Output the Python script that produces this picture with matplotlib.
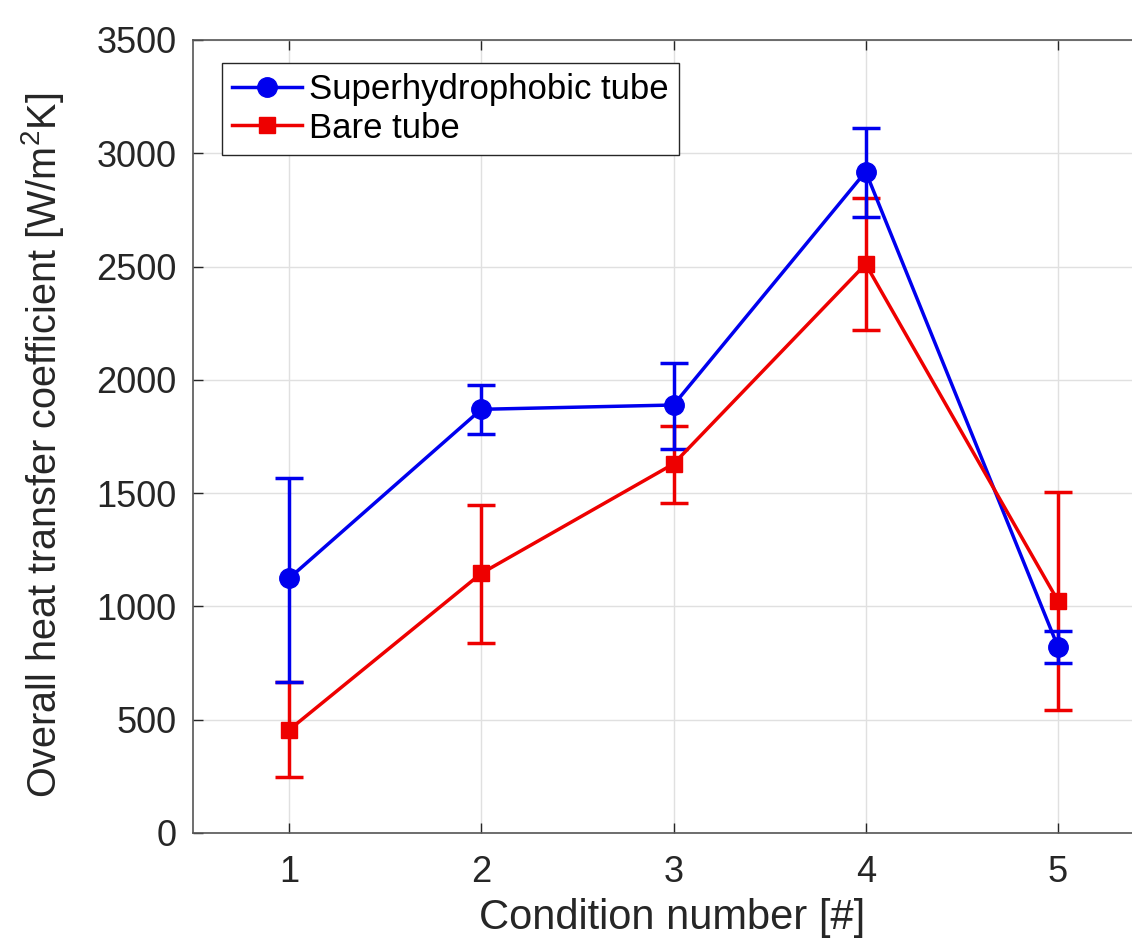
import matplotlib
matplotlib.use('Agg')
import matplotlib.pyplot as plt

# data
conditions = [1, 2, 3, 4, 5]

sh_mean = [1124, 1870, 1889, 2919, 822]
sh_upper = [1565, 1977, 2076, 3110, 893]
sh_lower = [668, 1761, 1695, 2717, 749]

bare_mean = [455, 1146, 1629, 2511, 1025]
bare_upper = [665, 1448, 1796, 2804, 1506]
bare_lower = [249, 837, 1458, 2220, 543]

y_ticks = [0, 500, 1000, 1500, 2000, 2500, 3000, 3500]

plt.rcParams['font.family'] = ['Liberation Sans', 'DejaVu Sans']
plt.rcParams['mathtext.fontset'] = 'custom'
plt.rcParams['mathtext.rm'] = 'Liberation Sans'
plt.rcParams['mathtext.it'] = 'Liberation Sans'


def main():
    fig = plt.figure(figsize=(11.32, 9.41), dpi=100)
    # axes runs past the right edge, like the cropped original
    ax = fig.add_axes([193 / 1132, 108 / 941, 961 / 1132, 793 / 941])

    sh_err = [[m - lo for m, lo in zip(sh_mean, sh_lower)],
              [hi - m for m, hi in zip(sh_mean, sh_upper)]]
    bare_err = [[m - lo for m, lo in zip(bare_mean, bare_lower)],
                [hi - m for m, hi in zip(bare_mean, bare_upper)]]

    blue = '#0000ee'
    red = '#ee0000'

    ax.errorbar(conditions, bare_mean, yerr=bare_err, fmt='none', ecolor=red,
                elinewidth=2.5, capsize=10, capthick=2.5, zorder=3)
    ax.errorbar(conditions, sh_mean, yerr=sh_err, fmt='none', ecolor=blue,
                elinewidth=2.5, capsize=10, capthick=2.5, zorder=3)
    ax.plot(conditions, sh_mean, '-o', color=blue, lw=2.5, ms=14,
            label='Superhydrophobic tube', zorder=4)
    ax.plot(conditions, bare_mean, '-s', color=red, lw=2.5, ms=11,
            label='Bare tube', zorder=4)

    ax.set_xlim(0.5, 5.5)
    ax.set_ylim(0, 3500)
    ax.set_xticks(conditions)
    ax.set_yticks(y_ticks)
    ax.grid(True, color='#e0e0e0', lw=1)
    ax.set_axisbelow(True)

    ax.tick_params(direction='in', length=7, width=1, colors='#262626',
                   labelsize=26, top=True, right=True)
    ax.tick_params(axis='x', pad=16)
    ax.tick_params(axis='y', pad=12)
    for s in ax.spines.values():
        s.set_color('#555555')
        s.set_linewidth(1.2)

    fig.text(672 / 1132, 1 - 918 / 941, 'Condition number [#]', fontsize=30,
             ha='center', va='center', color='#262626')
    fig.text(43 / 1132, 1 - 445 / 941,
             'Overall heat transfer coefficient [W/m$^2$K]', fontsize=28.5,
             rotation=90, ha='center', va='center', color='#262626')

    leg = ax.legend(loc='upper left', bbox_to_anchor=(0.03, 0.971),
                    borderaxespad=0, fontsize=25, handlelength=2.0,
                    handletextpad=0.2, labelspacing=0.15, borderpad=0.3,
                    fancybox=False, framealpha=1, edgecolor='#262626')
    leg.get_frame().set_linewidth(1)

    fig.savefig('out.png', dpi=100)


if __name__ == '__main__':
    main()
